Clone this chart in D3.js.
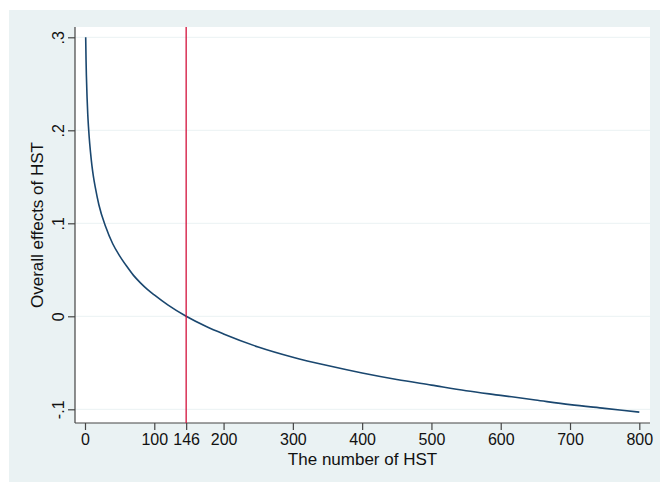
<!DOCTYPE html>
<html><head><meta charset="utf-8">
<script src="https://cdn.jsdelivr.net/npm/d3@7"></script>
<style>html,body{margin:0;padding:0;background:#fff;}svg{display:block;font-family:"Liberation Sans",Arial,sans-serif;}</style>
</head><body>
<script>
const hst = [1,1.5,2,3,4,5,6,8,10,12,15,20,30,40,50,60,70,80,90,100,120,146,175,200,250,300,350,400,450,500,550,600,650,700,750,800];
const effect = [0.300,0.276,0.259,0.235,0.217,0.204,0.193,0.176,0.162,0.151,0.138,0.120,0.096,0.078,0.065,0.054,0.044,0.036,0.029,0.023,0.012,0.000,-0.011,-0.019,-0.033,-0.044,-0.053,-0.061,-0.068,-0.074,-0.080,-0.085,-0.090,-0.095,-0.099,-0.103];
const xTicks = [0,100,146,200,300,400,500,600,700,800];
const yTicks = [-0.1,0,0.1,0.2,0.3];
const yTickLabels = ["-.1","0",".1",".2",".3"];
const threshold = 146;
const xTitle = "The number of HST";
const yTitle = "Overall effects of HST";

const W=661,H=482;
const svg=d3.select("body").append("svg").attr("width",W).attr("height",H);
svg.append("rect").attr("x",9).attr("y",10).attr("width",651).attr("height",472).attr("fill","#eaf2f3");
const pl=75,pr=650,pt=27,pb=423;
svg.append("rect").attr("x",pl).attr("y",pt).attr("width",pr-pl).attr("height",pb-pt).attr("fill","#fff");

const x=d3.scaleLinear().domain([0,800]).range([85,639.3]);
const y=d3.scaleLinear().domain([-0.1,0.3]).range([409.3,37.3]);

svg.append("g").selectAll("line").data(yTicks).join("line")
  .attr("x1",pl).attr("x2",pr).attr("y1",d=>y(d)).attr("y2",d=>y(d))
  .attr("stroke","#eaf2f3").attr("stroke-width",1);

const yAxis=d3.axisLeft(y).tickValues(yTicks).tickSize(7).tickPadding(4).tickFormat((d,i)=>yTickLabels[i]);
const gy=svg.append("g").attr("transform",`translate(${pl},0)`).call(yAxis);
gy.select(".domain").attr("d",`M0,${pt}V${pb}`).attr("stroke","#444").attr("stroke-width",1.2);
gy.selectAll(".tick line").attr("stroke","#444").attr("stroke-width",1.2);
gy.selectAll(".tick text").attr("font-size",16).attr("fill","#111").attr("font-family","Liberation Sans, Arial, sans-serif")
  .attr("transform","rotate(-90)").attr("x",0).attr("y",-11.5).attr("text-anchor","middle").attr("dy",0);

const xAxis=d3.axisBottom(x).tickValues(xTicks).tickSize(7).tickPadding(4).tickFormat(d3.format("d"));
const gx=svg.append("g").attr("transform",`translate(0,${pb})`).call(xAxis);
gx.select(".domain").attr("d",`M${pl},0H${pr}`).attr("stroke","#444").attr("stroke-width",1.2);
gx.selectAll(".tick line").attr("stroke","#444").attr("stroke-width",1.2);
gx.selectAll(".tick text").attr("font-size",16).attr("fill","#111").attr("font-family","Liberation Sans, Arial, sans-serif").attr("dy","0.71em");

const line=d3.line().x((d,i)=>x(hst[i])).y(d=>y(d)).curve(d3.curveMonotoneX);
svg.append("path").attr("d",line(effect)).attr("fill","none").attr("stroke","#1a476f").attr("stroke-width",1.6);

svg.append("line").attr("x1",x(threshold)).attr("x2",x(threshold)).attr("y1",pt).attr("y2",pb)
  .attr("stroke","#d3123c").attr("stroke-width",1.3);

svg.append("text").attr("x",(pl+pr)/2).attr("y",465).attr("text-anchor","middle").attr("font-size",17).attr("fill","#111").text(xTitle);
svg.append("text").attr("transform",`translate(43.3,${(pt+pb)/2}) rotate(-90)`).attr("text-anchor","middle").attr("font-size",17).attr("fill","#111").text(yTitle);
</script>
</body></html>
